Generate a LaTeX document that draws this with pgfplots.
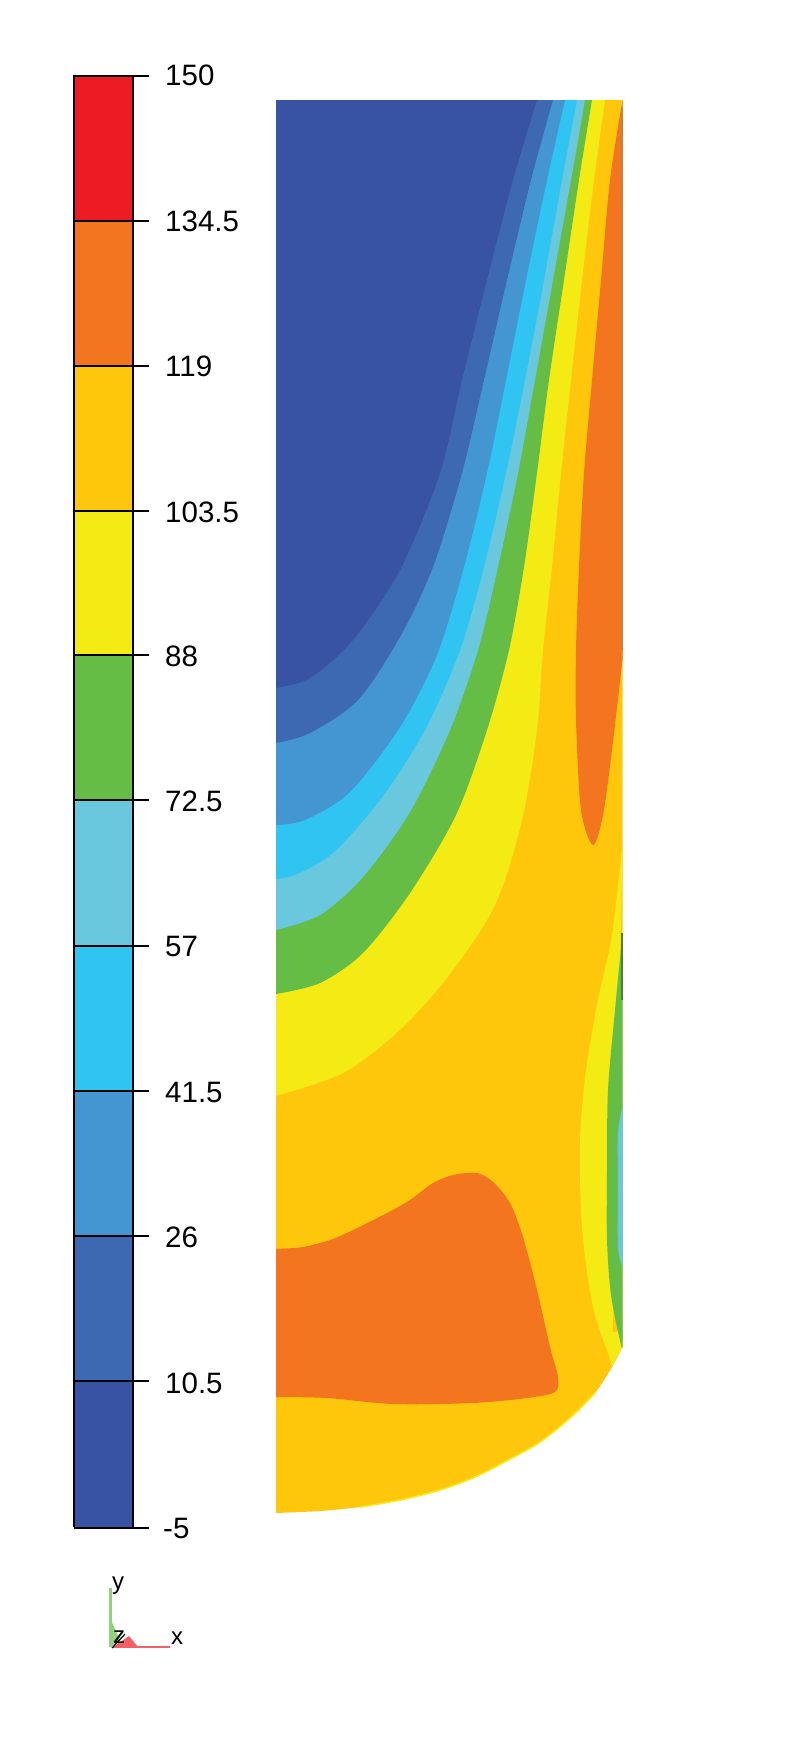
\documentclass[border=0pt]{standalone}
\usepackage{pgfplots}
\pgfplotsset{compat=1.18}
\usepackage{fontspec}
\setmainfont{Liberation Sans}
\definecolor{cA}{HTML}{3853A4}
\definecolor{cB}{HTML}{3D69B3}
\definecolor{cC}{HTML}{4496D2}
\definecolor{cD}{HTML}{2FC4F1}
\definecolor{cE}{HTML}{6AC8DE}
\definecolor{cF}{HTML}{66BD45}
\definecolor{cG}{HTML}{F5EB14}
\definecolor{cH}{HTML}{FFC70B}
\definecolor{cI}{HTML}{F47520}
\definecolor{cJ}{HTML}{ED1C24}
\tikzset{tl/.style={anchor=west, inner sep=0pt, font=\fontsize{29.5}{30}\selectfont}}
\begin{document}
\begin{tikzpicture}
\begin{axis}[
  scale only axis, width=800pt, height=1760pt,
  xmin=0, xmax=800, ymin=0, ymax=1760, y dir=reverse,
  hide axis, clip=true,
]
% domain
\addplot[fill=cH, draw=none] coordinates {(276,100)(622.5,100)(622.5,1347)(560,1400)(400,1480)(276,1513)} -- cycle;
\addplot[fill=cH, draw=none, smooth] coordinates {(622.5,1347)(612,1367)(595,1393)(570,1418)(540,1442)(510,1459)(475,1477)(440,1490)(400,1500)(360,1507)(320,1511)(276,1513)};
\addplot[color=cG, line width=1.6pt, smooth] coordinates {(595,1393)(570,1418)(540,1442)(510,1459)(475,1477)(440,1490)(400,1500)(360,1507)};
% nested contour regions, from the outside in
\addplot[fill=cG, draw=none, smooth] coordinates {(605,100)(594,180)(582,280)(571,380)(561,473)(552,567)(543,650)(537,730)(522,820)(496,903)(453,970)(403,1027)(345,1072)(276,1096)} \closedcycle;
\addplot[fill=cF, draw=none, smooth] coordinates {(592,100)(579,180)(564,280)(549,380)(537,473)(524,567)(509,650)(487,730)(456,815)(410,893)(363,953)(320,983)(276,994)} \closedcycle;
\addplot[fill=cE, draw=none, smooth] coordinates {(585,100)(571,180)(553,280)(535,380)(518,473)(498,567)(478,650)(450,730)(410,812)(363,877)(320,915)(276,930)} \closedcycle;
\addplot[fill=cD, draw=none, smooth] coordinates {(577,100)(562,180)(544,280)(525,380)(506,473)(484,567)(460,650)(425,730)(380,800)(333,853)(295,875)(276,879)} \closedcycle;
\addplot[fill=cC, draw=none, smooth] coordinates {(565,100)(547,180)(526,280)(506,380)(487,473)(464,567)(437,655)(400,727)(350,792)(305,820)(276,825)} \closedcycle;
\addplot[fill=cB, draw=none, smooth] coordinates {(553,100)(531,180)(507,280)(484,380)(462,473)(433,567)(400,637)(358,700)(310,733)(276,743)} \closedcycle;
\addplot[fill=cA, draw=none, smooth] coordinates {(537,100)(513,180)(487,280)(462,380)(440,473)(400,570)(353,640)(310,678)(276,688)} \closedcycle;
% orange upper strip
\addplot[fill=cI, draw=none, smooth] coordinates {(622.5,100)(610,180)(601,280)(592,380)(584,473)(579,567)(576,650)(576,720)(581,810)(593,845)(603,815)(612,750)(622.5,660)};
\addplot[color=brown!75!cI, line width=1.5pt] coordinates {(622,108)(622,650)};
% lower orange blob
\addplot[fill=cI, draw=none, smooth] coordinates {(276,1249)(303,1247)(330,1240)(353,1230)(387,1213)(410,1200)(433,1183)(453,1175)(477,1173)(493,1182)(510,1203)(523,1237)(537,1290)(550,1347)(558,1377)(555,1392)(527,1398)(473,1403)(393,1404)(327,1398)(276,1397)};
% right wall strips
\addplot[fill=cG, draw=none, smooth] coordinates {(622.5,843)(612,935)(598,1000)(586,1070)(580,1140)(581,1210)(586,1265)(595,1315)(612,1364)};
\addplot[fill=cG, draw=none] coordinates {(604,1335)(612,1366)(622.5,1347)(622.5,1330)} -- cycle;
\addplot[fill=cF, draw=none, smooth] coordinates {(622.5,933)(615,1010)(608,1090)(607,1170)(607,1240)(611,1295)(621,1345)(622.5,1345)};
\addplot[fill=cE, draw=none, smooth] coordinates {(622.5,1107)(618,1133)(618,1190)(618,1247)(622.5,1267)};
\addplot[color=cF!70!black, line width=1.2pt] coordinates {(622,933)(622,1000)};
% cover above and right of the domain
\addplot[fill=white, draw=none] coordinates {(0,0)(800,0)(800,100)(0,100)} -- cycle;
\addplot[fill=white, draw=none] coordinates {(623,100)(800,100)(800,1760)(623,1760)} -- cycle;
% colour bar
\addplot[fill=cA, draw=none] coordinates {(74,1381)(132,1381)(132,1527)(74,1527)} -- cycle;
\addplot[fill=cB, draw=none] coordinates {(74,1236)(132,1236)(132,1381)(74,1381)} -- cycle;
\addplot[fill=cC, draw=none] coordinates {(74,1091)(132,1091)(132,1236)(74,1236)} -- cycle;
\addplot[fill=cD, draw=none] coordinates {(74,946)(132,946)(132,1091)(74,1091)} -- cycle;
\addplot[fill=cE, draw=none] coordinates {(74,800)(132,800)(132,946)(74,946)} -- cycle;
\addplot[fill=cF, draw=none] coordinates {(74,655)(132,655)(132,800)(74,800)} -- cycle;
\addplot[fill=cG, draw=none] coordinates {(74,511)(132,511)(132,655)(74,655)} -- cycle;
\addplot[fill=cH, draw=none] coordinates {(74,366)(132,366)(132,511)(74,511)} -- cycle;
\addplot[fill=cI, draw=none] coordinates {(74,221)(132,221)(132,366)(74,366)} -- cycle;
\addplot[fill=cJ, draw=none] coordinates {(74,76)(132,76)(132,221)(74,221)} -- cycle;
\addplot[color=black, line width=1.5pt] coordinates {(74,1527)(74,76)(149,76)};
\addplot[color=black, line width=1.5pt] coordinates {(133,76)(133,1527)};
\addplot[color=black, line width=1.5pt] coordinates {(74,1528)(149,1528)};
\addplot[color=black, line width=1.3pt] coordinates {(74,221)(149,221)};
\addplot[color=black, line width=1.3pt] coordinates {(74,366)(149,366)};
\addplot[color=black, line width=1.3pt] coordinates {(74,511)(149,511)};
\addplot[color=black, line width=1.3pt] coordinates {(74,655)(149,655)};
\addplot[color=black, line width=1.3pt] coordinates {(74,800)(149,800)};
\addplot[color=black, line width=1.3pt] coordinates {(74,946)(149,946)};
\addplot[color=black, line width=1.3pt] coordinates {(74,1091)(149,1091)};
\addplot[color=black, line width=1.3pt] coordinates {(74,1236)(149,1236)};
\addplot[color=black, line width=1.3pt] coordinates {(74,1381)(149,1381)};
\node[tl] at (axis cs:165,75) {150};
\node[tl] at (axis cs:165,221) {134.5};
\node[tl] at (axis cs:165,366) {119};
\node[tl] at (axis cs:165,512) {103.5};
\node[tl] at (axis cs:165,656) {88};
\node[tl] at (axis cs:165,801) {72.5};
\node[tl] at (axis cs:165,946) {57};
\node[tl] at (axis cs:165,1092) {41.5};
\node[tl] at (axis cs:165,1237) {26};
\node[tl] at (axis cs:165,1383) {10.5};
\node[tl] at (axis cs:163,1528) {-5};
% triad
\addplot[color=cF!70!white, line width=2.6pt] coordinates {(110.5,1588)(110.5,1647)};
\addplot[fill=cF!70!white, draw=none] coordinates {(111,1620)(120,1640)(111,1647)} -- cycle;
\addplot[color=cJ!70!white, line width=2.2pt] coordinates {(113,1647)(170,1647)};
\addplot[fill=cJ!70!white, draw=none] coordinates {(113,1647)(129,1636)(138,1647)} -- cycle;
\addplot[color=black, line width=1.2pt] coordinates {(112,1648)(125,1634)};
\node[inner sep=0pt, font=\fontsize{24}{25}\selectfont] at (axis cs:118,1586) {y};
\node[inner sep=0pt, font=\fontsize{24}{25}\selectfont] at (axis cs:119,1637) {z};
\node[inner sep=0pt, font=\fontsize{24}{25}\selectfont] at (axis cs:177,1638) {x};
\end{axis}
\end{tikzpicture}
\end{document}
